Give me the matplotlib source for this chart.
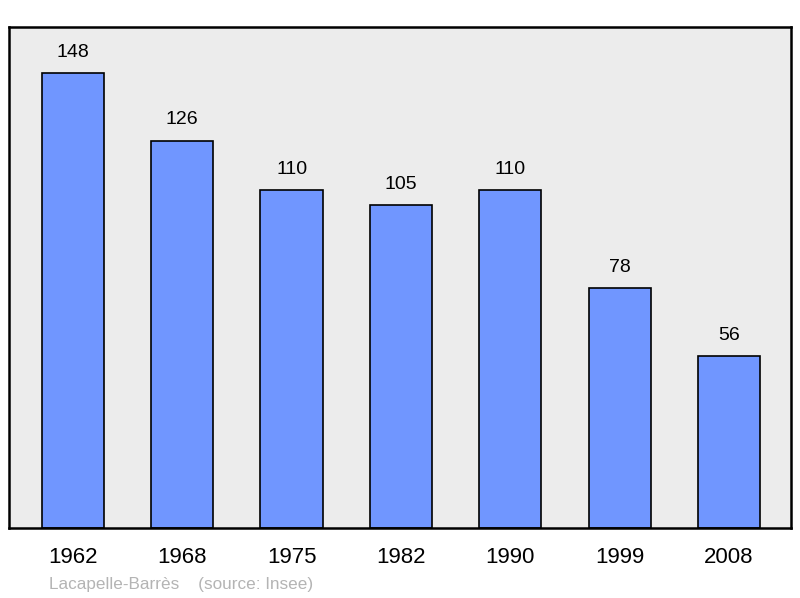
import matplotlib
matplotlib.use("Agg")
import matplotlib.pyplot as plt

years = ["1962", "1968", "1975", "1982", "1990", "1999", "2008"]
population = [148, 126, 110, 105, 110, 78, 56]
commune = "Lacapelle-Barrès"
source = "(source: Insee)"

plt.rcParams['font.family'] = ['Liberation Sans', 'DejaVu Sans']

fig = plt.figure(figsize=(8, 5.98), dpi=100)
ax = fig.add_axes([9/800, 70/598, 782/800, 501/598])
ax.set_facecolor('#ececec')
x = list(range(len(years)))
ax.bar(x, population, width=0.57, color='#7096ff', edgecolor='black', linewidth=1.2, zorder=2)
for xi, v in zip(x, population):
    ax.annotate(str(v), (xi, v), xytext=(0, 15), textcoords='offset points',
                ha='center', va='center', fontsize=14, color='black')
ax.set_xlim(-0.585, 6.567)
ax.set_ylim(0, 163)
ax.set_yticks([])
ax.set_xticks(x)
ax.set_xticklabels(years, fontsize=16)
ax.tick_params(axis='x', length=0, pad=14)
for s in ax.spines.values():
    s.set_linewidth(1.8)
    s.set_color('black')
fig.text(49/800, 1 - 584/598, commune + "    " + source, fontsize=12.3, color='#b4b4b4',
         ha='left', va='center')
fig.savefig("out.png", dpi=100)
